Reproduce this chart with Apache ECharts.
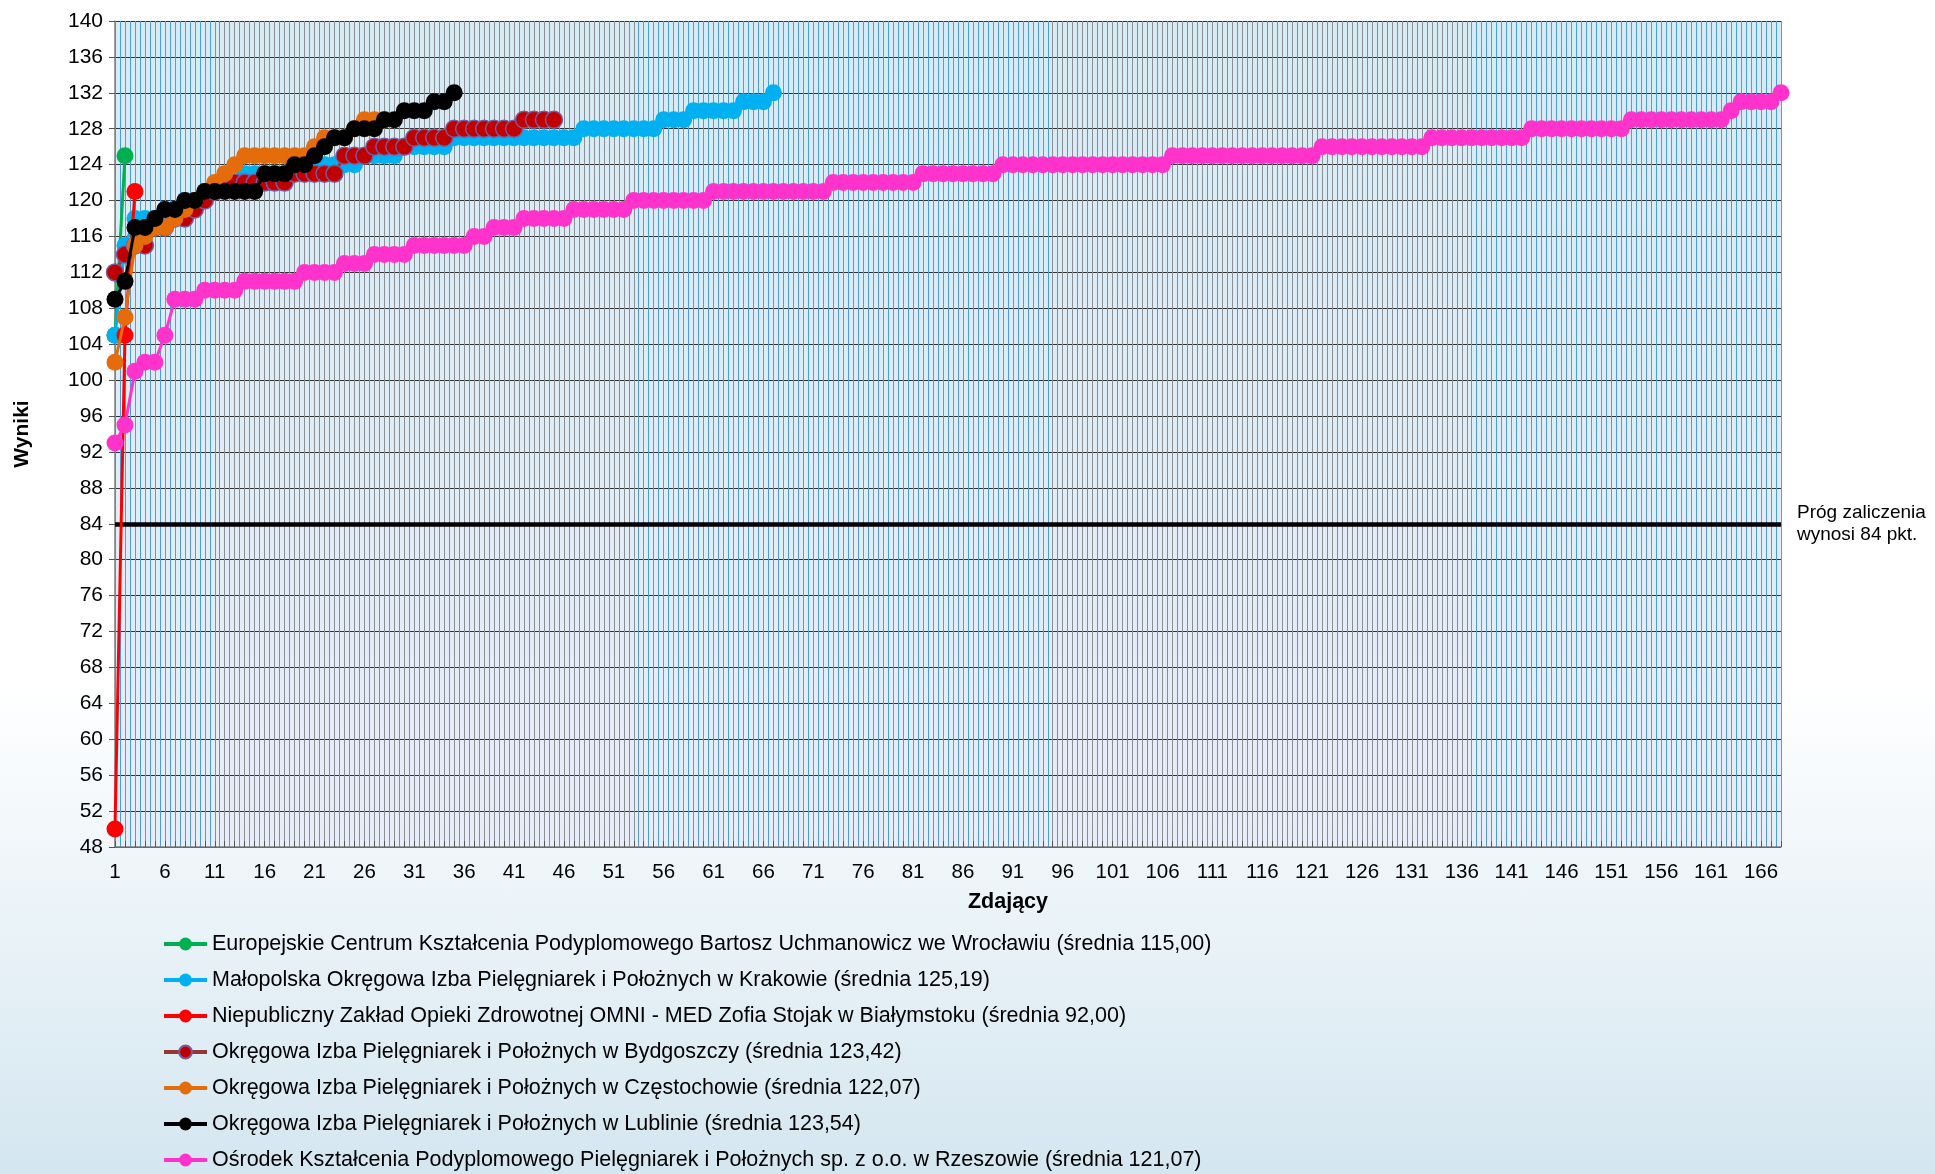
<!DOCTYPE html>
<html><head><meta charset="utf-8">
<script src="https://cdn.jsdelivr.net/npm/echarts@6/dist/echarts.min.js"></script>
<style>
html,body{margin:0;padding:0;width:1935px;height:1174px;overflow:hidden;
background:linear-gradient(to bottom,#ffffff 0%,#ffffff 58%,#d4e6f0 100%);}
#c{width:1935px;height:1174px;}
</style>
</head><body><div id="c"></div>
<script>
// ---- data ----
const categories = Array.from({length:168}, (_, k) => String(k + 1));
const yMin = 48, yMax = 140, yStep = 4;
const THRESHOLD = 84;
const thresholdLabel = 'Próg zaliczenia\nwynosi 84 pkt.';

const names = [
  'Europejskie Centrum Kształcenia Podyplomowego Bartosz Uchmanowicz we Wrocławiu (średnia 115,00)',
  'Małopolska Okręgowa Izba Pielęgniarek i Położnych w Krakowie (średnia 125,19)',
  'Niepubliczny Zakład Opieki Zdrowotnej OMNI - MED Zofia Stojak w Białymstoku (średnia 92,00)',
  'Okręgowa Izba Pielęgniarek i Położnych w Bydgoszczy (średnia 123,42)',
  'Okręgowa Izba Pielęgniarek i Położnych w Częstochowie (średnia 122,07)',
  'Okręgowa Izba Pielęgniarek i Położnych w Lublinie (średnia 123,54)',
  'Ośrodek Kształcenia Podyplomowego Pielęgniarek i Położnych sp. z o.o. w Rzeszowie (średnia 121,07)'
];

const wroclaw = [105, 125];
const krakow = [105,115,118,118,118,119,119,120,120,121,121,122,122,123,123,123,123,123,
  124,124,124,124,124,124,124,125,125,125,125,126,126,126,126,126,
  127,127,127,127,127,127,127,127,127,127,127,127,127,
  128,128,128,128,128,128,128,128,
  129,129,129,
  130,130,130,130,130,
  131,131,131,
  132];
const bialystok = [50, 105, 121];
const bydgoszcz = [112,114,115,115,117,117,118,118,119,120,121,
  122,122,122,122,122,122,122,
  123,123,123,123,123,
  125,125,125,
  126,126,126,126,
  127,127,127,127,
  128,128,128,128,128,128,128,
  129,129,129,129];
const czestochowa = [102,107,115,116,117,117,118,119,120,121,122,123,124,
  125,125,125,125,125,125,125,
  126,127,127,127,128,129,129,129];
const lublin = [109,111,117,117,118,119,119,120,120,
  121,121,121,121,121,121,
  123,123,123,124,124,125,126,127,127,
  128,128,128,129,129,130,130,130,131,131,132];
const rzeszow = [93,95,101,102,102,105,
  109,109,109,
  110,110,110,110,
  111,111,111,111,111,111,
  112,112,112,112,
  113,113,113,
  114,114,114,114,
  115,115,115,115,115,115,
  116,116,
  117,117,117,
  118,118,118,118,118,
  119,119,119,119,119,119,
  120,120,120,120,120,120,120,120,
  121,121,121,121,121,121,121,121,121,121,121,121,
  122,122,122,122,122,122,122,122,122,
  123,123,123,123,123,123,123,123,
  124,124,124,124,124,124,124,124,124,124,124,124,124,124,124,124,124,
  125,125,125,125,125,125,125,125,125,125,125,125,125,125,125,
  126,126,126,126,126,126,126,126,126,126,126,
  127,127,127,127,127,127,127,127,127,127,
  128,128,128,128,128,128,128,128,128,128,
  129,129,129,129,129,129,129,129,129,129,
  130,
  131,131,131,131,
  132];

const seriesData = [wroclaw, krakow, bialystok, bydgoszcz, czestochowa, lublin, rzeszow];
const colors = ['#00b050', '#00b0f0', '#ff0000', '#c00000', '#e46c0a', '#000000', '#ff33cc'];
const lineColors = ['#00b050', '#00b0f0', '#ff0000', '#953735', '#e46c0a', '#000000', '#ff33cc'];

// ---- chart ----
const FONT = '"Liberation Sans", Arial, sans-serif';
const chart = echarts.init(document.getElementById('c'), null, {renderer: 'canvas'});

const series = seriesData.map((d, k) => ({
  name: names[k],
  type: 'line',
  data: d,
  symbol: 'circle',
  symbolSize: 17,
  showAllSymbol: true,
  lineStyle: {color: lineColors[k], width: 3},
  itemStyle: k === 3
    ? {color: colors[k], borderColor: '#7a5a9a', borderWidth: 1.5}
    : {color: colors[k]},
  emphasis: {disabled: true},
  animation: false,
  z: 3 + k
}));

series[6].markLine = {
  silent: true,
  symbol: ['none', 'none'],
  animation: false,
  lineStyle: {color: '#000', width: 4.5, type: 'solid'},
  label: {show: true, position: 'end', formatter: thresholdLabel, color: '#000',
    fontSize: 19, lineHeight: 22, fontFamily: FONT, distance: 16},
  emphasis: {disabled: true},
  data: [{yAxis: THRESHOLD}]
};

const option = {
  backgroundColor: 'transparent',
  textStyle: {fontFamily: FONT},
  grid: {
    left: 115, right: 154, top: 21, bottom: 327,
    show: true, borderWidth: 0,
    backgroundColor: new echarts.graphic.LinearGradient(0, 0, 0, 1, [
      {offset: 0, color: '#d6ebf4'},
      {offset: 1, color: '#e8edf8'}
    ])
  },
  legend: {
    data: names,
    orient: 'vertical',
    left: 162, top: 933,
    padding: 0,
    itemWidth: 43, itemHeight: 16, itemGap: 14,
    lineStyle: {width: 4},
    textStyle: {fontSize: 21.5, color: '#000', fontFamily: FONT, lineHeight: 22},
    selectedMode: false
  },
  xAxis: [{
    type: 'category',
    data: categories,
    boundaryGap: false,
    name: 'Zdający',
    nameLocation: 'middle',
    nameGap: 44,
    nameTextStyle: {fontSize: 21.5, fontWeight: 'bold', color: '#000', fontFamily: FONT, padding: [0, 0, 0, 120]},
    axisLine: {lineStyle: {color: '#7f7f7f', width: 1.5}},
    axisTick: {show: true, interval: 0, inside: true, length: 6, lineStyle: {color: '#555'}},
    axisLabel: {interval: 4, fontSize: 20.5, color: '#000', margin: 15, fontFamily: FONT},
    splitLine: {show: false}
  }, {
    type: 'value',
    min: 1, max: 168, interval: 0.5,
    position: 'bottom',
    axisLine: {show: false}, axisTick: {show: false}, axisLabel: {show: false},
    splitLine: {show: true, lineStyle: {color: ['#8a9094', '#4a9be0'], width: 1}}
  }],
  yAxis: {
    type: 'value',
    min: yMin, max: yMax, interval: yStep,
    name: 'Wyniki',
    nameLocation: 'middle',
    nameGap: 82,
    nameTextStyle: {fontSize: 21, fontWeight: 'bold', color: '#000', fontFamily: FONT},
    axisLine: {show: true, lineStyle: {color: '#7f7f7f', width: 1.5}},
    axisTick: {show: true, length: 6, lineStyle: {color: '#555'}},
    axisLabel: {fontSize: 21, color: '#000', margin: 12, fontFamily: FONT},
    splitLine: {show: true, lineStyle: {color: '#333', width: 1}}
  },
  series: series
};
chart.setOption(option);
</script>
</body></html>
